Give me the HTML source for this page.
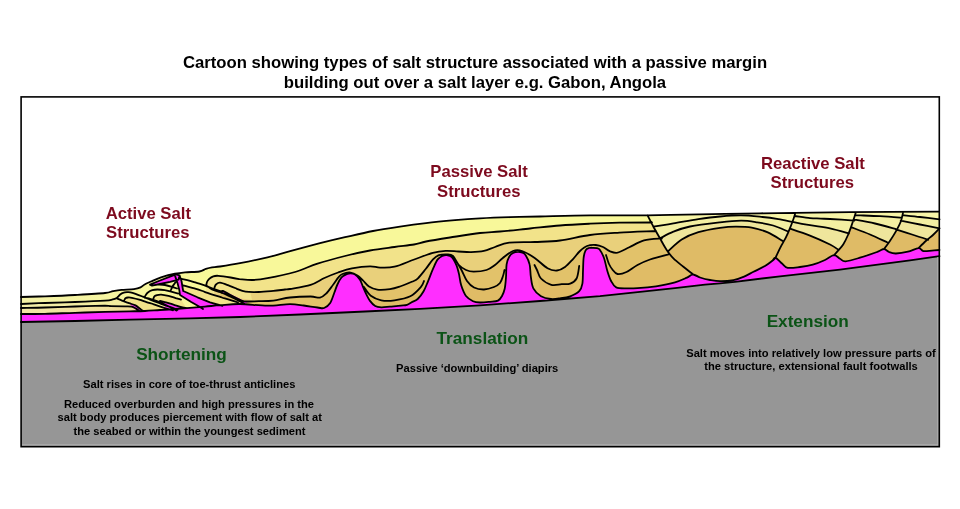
<!DOCTYPE html>
<html><head><meta charset="utf-8"><style>
html,body{margin:0;padding:0;background:#fff;}
svg{display:block;will-change:transform;}
text{font-family:"Liberation Sans",sans-serif;font-weight:bold;}
</style></head><body>
<svg width="960" height="509" viewBox="0 0 960 509">
<rect width="960" height="509" fill="#fff"/>
<rect x="21" y="96.5" width="918.5" height="350" fill="#fff"/>
<path d="M21.0,297.0 L45.0,296.3 L75.0,295.0 L105.0,293.0 L113.0,291.1 L121.5,289.9 L134.0,289.1 L140.5,287.4 L144.6,284.5 L151.0,281.5 L161.0,277.4 L175.0,273.7 L185.0,272.3 L199.4,271.5 L205.8,268.9 L212.0,267.3 L220.0,266.5 L240.0,263.2 L267.5,257.3 L292.0,250.6 L320.0,243.2 L345.0,237.2 L373.0,231.0 L400.0,226.6 L426.0,223.1 L455.0,220.2 L480.0,218.4 L510.0,217.2 L540.0,216.5 L590.0,215.4 L647.0,215.3 L700.0,214.3 L760.0,213.3 L795.0,212.9 L850.0,212.2 L939.0,211.6 L939.5,256.5 L939.5,256.2 L910.0,260.3 L855.0,267.7 L840.0,269.6 L780.0,276.3 L735.0,281.8 L720.0,283.3 L705.0,284.7 L675.0,288.1 L640.0,291.8 L600.0,296.2 L540.0,301.0 L480.0,305.3 L420.0,308.8 L365.0,311.5 L300.0,314.5 L240.0,317.0 L190.0,318.4 L130.0,319.6 L75.0,321.0 L21.0,322.0 Z" fill="#E2C26A"/>
<defs><linearGradient id="g3" gradientUnits="userSpaceOnUse" x1="30" y1="0" x2="240" y2="0"><stop offset="0" stop-color="#F1E6A4"/><stop offset="0.45" stop-color="#EFDC98"/><stop offset="1" stop-color="#E9D07B"/></linearGradient><linearGradient id="g2" gradientUnits="userSpaceOnUse" x1="30" y1="0" x2="240" y2="0"><stop offset="0" stop-color="#F3EEA8"/><stop offset="0.5" stop-color="#F3EB9C"/><stop offset="1" stop-color="#F2E38A"/></linearGradient><linearGradient id="g1" gradientUnits="userSpaceOnUse" x1="30" y1="0" x2="200" y2="0"><stop offset="0" stop-color="#F4F2A6"/><stop offset="1" stop-color="#F8F89A"/></linearGradient></defs>
<path d="M21.0,297.0 L45.0,296.3 L75.0,295.0 L105.0,293.0 L113.0,291.1 L121.5,289.9 L134.0,289.1 L140.5,287.4 L144.6,284.5 L151.0,281.5 L161.0,277.4 L175.0,273.7 L185.0,272.3 L199.4,271.5 L205.8,268.9 L212.0,267.3 L220.0,266.5 L240.0,263.2 L267.5,257.3 L292.0,250.6 L320.0,243.2 L345.0,237.2 L373.0,231.0 L400.0,226.6 L426.0,223.1 L455.0,220.2 L480.0,218.4 L510.0,217.2 L540.0,216.5 L590.0,215.4 L647.0,215.3 L662.0,215.0 L662.0,238.5 C659.0,238.8 649.5,238.9 644.0,240.4 C638.5,241.9 633.7,245.2 629.3,247.3 C624.9,249.4 620.8,252.0 617.5,252.7 C614.2,253.3 612.1,252.1 609.7,251.2 C607.3,250.2 605.3,248.0 603.0,247.0 C600.7,246.0 598.5,245.2 595.8,245.0 C593.1,244.8 589.6,245.0 587.0,246.0 C584.4,247.0 582.4,248.8 580.0,251.0 C577.6,253.2 575.3,256.6 572.8,259.3 C570.3,262.0 567.6,265.1 565.0,267.0 C562.4,268.9 559.9,270.3 557.0,270.5 C554.1,270.7 551.2,270.3 547.5,268.2 C543.8,266.1 539.0,260.9 534.7,258.0 C530.5,255.1 525.6,252.2 522.0,251.0 C518.4,249.8 516.2,249.8 513.0,251.0 C509.8,252.2 505.8,255.7 502.8,258.0 C499.8,260.3 497.7,263.0 495.0,265.0 C492.3,267.0 490.1,268.9 486.5,270.0 C482.9,271.1 477.1,271.6 473.7,271.6 C470.3,271.6 468.5,271.1 466.0,270.0 C463.5,268.9 461.1,267.3 458.9,265.0 C456.7,262.7 455.0,257.8 453.0,256.0 C451.0,254.2 449.4,254.5 447.0,254.4 C444.6,254.3 441.2,254.4 438.9,255.2 C436.6,256.0 435.2,257.1 433.0,259.4 C430.8,261.7 428.4,265.6 425.9,268.8 C423.3,272.0 420.0,276.4 417.7,278.6 C415.4,280.8 414.8,280.5 411.8,281.8 C408.9,283.1 403.6,285.3 400.0,286.5 C396.4,287.7 393.8,288.6 390.0,289.1 C386.2,289.6 380.7,290.0 377.2,289.6 C373.7,289.2 371.4,288.1 369.0,286.6 C366.6,285.1 364.8,282.2 362.9,280.4 C361.0,278.6 359.9,277.1 357.8,275.8 C355.8,274.5 353.2,272.9 350.6,272.6 C348.1,272.3 344.5,273.2 342.5,274.0 C340.5,274.8 339.9,275.6 338.4,277.4 C336.9,279.1 335.4,281.8 333.3,284.5 C331.2,287.2 328.3,291.5 326.1,293.7 C323.9,295.9 322.6,297.1 320.0,297.6 C317.4,298.1 315.6,296.5 310.6,296.5 C305.6,296.5 296.2,296.8 290.0,297.5 C283.8,298.2 278.6,300.0 273.4,300.6 C268.2,301.2 263.7,301.1 258.8,301.2 C253.9,301.3 247.8,301.8 244.2,301.3 C240.5,300.8 239.3,299.3 236.9,298.2 C234.5,297.1 231.9,295.8 229.6,294.6 C227.3,293.4 224.5,291.4 223.0,290.9 C221.5,290.4 221.5,289.8 220.8,291.7 C220.1,293.6 220.0,299.5 219.0,302.0 C218.0,304.5 219.8,305.4 215.0,306.5 C210.2,307.6 199.2,308.1 190.0,308.7 C180.8,309.3 170.0,309.9 160.0,310.3 C150.0,310.7 139.2,310.7 130.0,311.0 C120.8,311.3 114.2,311.6 105.0,311.9 C95.8,312.2 85.0,312.5 75.0,312.8 C65.0,313.1 54.0,313.6 45.0,313.8 C36.0,314.0 25.0,314.0 21.0,314.0 Z" fill="url(#g3)"/>
<path d="M21.0,297.0 L45.0,296.3 L75.0,295.0 L105.0,293.0 L113.0,291.1 L121.5,289.9 L134.0,289.1 L140.5,287.4 L144.6,284.5 L151.0,281.5 L161.0,277.4 L175.0,273.7 L185.0,272.3 L199.4,271.5 L205.8,268.9 L212.0,267.3 L220.0,266.5 L240.0,263.2 L267.5,257.3 L292.0,250.6 L320.0,243.2 L345.0,237.2 L373.0,231.0 L400.0,226.6 L426.0,223.1 L455.0,220.2 L480.0,218.4 L510.0,217.2 L540.0,216.5 L590.0,215.4 L647.0,215.3 L656.0,215.1 L656.0,231.0 C649.9,231.3 630.5,231.9 619.5,232.6 C608.5,233.3 599.9,233.7 590.0,235.0 C580.1,236.3 569.2,239.3 560.0,240.5 C550.8,241.7 543.2,241.6 534.7,242.0 C526.2,242.4 515.8,241.9 509.2,242.7 C502.6,243.5 499.2,245.6 495.0,247.0 C490.8,248.4 487.9,250.1 483.9,250.9 C479.9,251.8 475.3,252.0 471.0,252.1 C466.7,252.2 462.5,251.7 458.3,251.5 C454.1,251.3 449.9,250.7 445.6,250.9 C441.4,251.1 438.0,251.4 432.8,252.8 C427.6,254.2 420.6,257.2 414.2,259.5 C407.8,261.8 400.2,265.3 394.5,266.7 C388.8,268.1 384.1,267.7 380.0,267.6 C375.9,267.5 374.7,266.2 370.0,266.3 C365.3,266.4 357.2,267.4 351.9,268.4 C346.6,269.4 342.7,270.9 338.1,272.5 C333.5,274.1 329.0,275.9 324.4,278.0 C319.8,280.1 316.3,283.1 310.6,284.9 C304.9,286.7 294.3,288.2 290.0,289.0 C285.7,289.8 287.8,289.2 285.0,289.5 C282.2,289.8 277.8,290.5 273.4,290.9 C269.0,291.3 263.4,291.9 258.8,292.0 C254.2,292.1 249.2,292.2 245.6,291.7 C241.9,291.2 239.6,289.8 236.9,288.8 C234.2,287.8 232.4,286.8 229.6,285.8 C226.8,284.8 222.4,282.8 220.1,282.6 C217.8,282.4 216.9,283.7 216.0,284.5 C215.1,285.3 214.8,285.2 214.5,287.5 C214.2,289.8 214.4,294.8 214.0,298.0 C213.6,301.2 215.2,304.8 212.0,306.5 C208.8,308.2 202.0,307.8 195.0,308.3 C188.0,308.8 177.5,309.4 170.0,309.7 C162.5,310.0 155.1,310.1 150.0,310.3 C144.9,310.5 141.8,311.3 139.5,311.0 C137.2,310.7 137.3,309.3 136.0,308.6 C134.7,307.9 133.3,307.0 131.5,306.6 C129.7,306.2 128.6,306.4 125.0,306.3 C121.4,306.2 113.3,306.3 110.0,306.2 C106.7,306.1 110.8,305.6 105.0,305.6 C99.2,305.7 85.0,306.2 75.0,306.5 C65.0,306.8 54.0,307.2 45.0,307.5 C36.0,307.8 25.0,307.9 21.0,308.0 Z" fill="url(#g2)"/>
<path d="M364.0,287.0 C365.1,288.4 367.9,293.5 370.8,295.7 C373.7,297.9 377.4,299.5 381.3,300.3 C385.2,301.1 389.7,301.0 394.5,300.3 C399.3,299.6 405.9,298.5 410.3,296.3 C414.7,294.1 418.5,289.7 420.8,287.1 C423.1,284.6 423.5,282.0 424.0,281.0 L423.6,291.2 L417.7,299.0 L411.6,302.3 L407.0,304.8 L401.0,305.6 L390.0,306.6 L381.3,307.3 L375.2,306.0 L370.0,300.9 L366.0,293.7 Z" fill="#E0BC66"/>
<path d="M458.0,264.0 C458.7,265.2 460.5,268.2 462.0,271.0 C463.5,273.8 465.0,278.2 467.0,281.0 C469.0,283.8 471.2,286.1 474.0,287.5 C476.8,288.9 480.7,289.6 484.0,289.5 C487.3,289.4 491.3,288.1 494.0,287.0 C496.7,285.9 498.5,284.8 500.0,283.0 C501.5,281.2 502.2,278.2 503.0,276.0 C503.8,273.8 504.2,271.0 504.5,270.0 L502.0,296.0 L498.0,300.6 L490.0,301.8 L480.0,302.5 L473.0,301.2 L466.0,296.0 L461.2,285.3 L458.9,273.6 Z" fill="#E0BC66"/>
<path d="M534.5,265.0 C534.9,265.8 535.9,267.8 537.0,270.0 C538.1,272.2 538.6,276.0 541.0,278.5 C543.4,281.0 547.9,283.9 551.3,284.8 C554.7,285.8 558.5,284.4 561.6,284.2 C564.8,284.0 567.7,284.6 570.2,283.6 C572.7,282.7 575.1,281.4 576.6,278.5 C578.1,275.6 578.8,268.1 579.2,266.0 L570.2,296.3 L560.0,298.3 L551.0,299.0 L541.0,296.3 Z" fill="#E0BC66"/>
<path d="M606.0,255.0 C606.5,256.5 607.9,261.6 609.0,264.0 C610.1,266.4 611.0,267.8 612.4,269.5 C613.8,271.2 615.1,273.6 617.5,274.0 C619.9,274.4 623.2,273.5 626.5,272.0 C629.8,270.5 633.6,267.1 637.5,265.0 C641.4,262.9 644.8,261.3 650.0,259.5 C655.2,257.7 665.4,255.2 668.5,254.4 L673.4,258.4 L683.4,266.8 L693.1,274.4 L687.0,277.6 L675.0,282.3 L656.0,286.3 L637.5,288.2 L626.5,288.4 L616.2,287.4 L611.1,281.0 L607.3,270.8 Z" fill="#E0BC66"/>
<path d="M647.5,215.3 L700.0,214.3 L760.0,213.3 L795.0,212.9 L850.0,212.2 L939.0,211.6 L939.5,211.6 L939.5,256.5 L939.5,256.2 L910.0,260.3 L855.0,267.7 L840.0,269.6 L780.0,276.3 L735.0,281.8 L720.0,283.3 L705.0,284.7 L693.1,277.4 L693.1,274.4 L693.1,274.4 C691.5,273.1 686.7,269.5 683.4,266.8 C680.1,264.1 676.2,261.2 673.4,258.4 C670.6,255.6 668.9,253.3 666.7,250.0 C664.5,246.7 662.2,242.3 660.0,238.4 C657.8,234.5 655.5,230.5 653.4,226.7 C651.3,222.8 648.5,217.2 647.5,215.3 Z" fill="#DFBB66"/>
<path d="M647.5,215.3 L700.0,214.3 L760.0,213.3 L795.0,212.9 L795.4,213.0 L793.2,219.7 L790.0,228.2 L785.8,237.7 L782.6,240.9 L782.6,240.9 C780.1,239.5 772.9,234.6 767.8,232.4 C762.7,230.2 757.1,228.6 751.8,227.6 C746.5,226.6 741.2,226.6 735.9,226.6 C730.6,226.6 726.2,226.9 720.0,227.8 C713.8,228.7 704.8,230.2 698.4,232.2 C692.0,234.1 686.7,236.4 681.7,239.5 C676.7,242.6 670.6,249.1 668.4,251.0 L666.7,250.0 L660.0,238.4 L653.4,226.7 L647.5,215.3 Z" fill="#EFE69C"/>
<path d="M647.5,215.3 L700.0,214.3 L760.0,213.3 L795.0,212.9 L795.4,213.0 L793.2,219.7 L790.0,228.2 L788.0,231.5 L788.0,231.5 C785.5,230.5 778.2,227.0 773.1,225.5 C768.0,224.0 762.5,223.1 757.2,222.3 C751.9,221.5 747.4,220.7 741.2,220.7 C735.0,220.7 728.5,221.3 720.0,222.3 C711.5,223.3 697.8,224.9 690.0,226.5 C682.2,228.1 678.4,229.7 673.4,231.7 C668.4,233.7 662.2,237.3 660.0,238.4 L653.4,226.7 L647.5,215.3 Z" fill="#F3EFA2"/>
<path d="M647.5,215.3 L700.0,214.3 L760.0,213.3 L795.0,212.9 L795.4,213.0 L793.2,219.7 L792.2,221.8 L792.2,221.8 C789.9,221.4 783.4,219.9 778.4,219.1 C773.4,218.3 768.7,217.6 762.5,217.0 C756.3,216.4 748.3,215.5 741.2,215.4 C734.1,215.3 727.1,215.9 720.0,216.5 C712.9,217.1 706.2,218.0 698.4,219.2 C690.6,220.3 680.9,222.2 673.4,223.4 C665.9,224.7 656.7,226.1 653.4,226.7 L647.5,215.3 Z" fill="#F8F6A8"/>
<path d="M795.4,213.0 L850.0,212.2 L855.8,212.5 L854.0,218.2 L851.6,225.4 L848.0,235.0 L843.2,244.5 L838.0,249.5 L838.0,249.5 C836.7,248.7 834.7,246.8 830.0,244.5 C825.3,242.2 816.7,238.2 810.0,235.6 C803.3,233.0 793.3,229.8 790.0,228.7 L790.0,228.2 L793.2,219.7 L795.4,213.0 Z" fill="#EFE69C"/>
<path d="M795.4,213.0 L850.0,212.2 L855.8,212.5 L854.0,218.2 L851.6,225.4 L849.0,233.6 L849.0,233.6 C845.8,232.7 836.5,229.8 830.0,228.4 C823.5,227.0 816.2,226.3 810.0,225.2 C803.8,224.1 795.4,222.4 792.5,221.8 L793.2,219.7 L795.4,213.0 Z" fill="#F3EFA2"/>
<path d="M795.4,213.0 L850.0,212.2 L855.8,212.5 L854.0,218.2 L854.3,220.6 L854.3,220.6 C850.2,220.3 835.6,219.3 830.0,219.0 C824.4,218.7 824.0,218.8 820.7,218.6 C817.4,218.4 814.4,218.5 810.0,218.1 C805.6,217.7 797.1,216.3 794.5,216.0 L795.4,213.0 Z" fill="#F8F6A8"/>
<path d="M855.8,212.5 L903.1,212.3 L900.7,221.8 L895.9,231.4 L889.9,240.9 L887.5,242.5 L887.5,242.5 C884.6,241.2 876.0,237.1 870.0,234.5 C864.0,231.9 854.3,228.4 851.2,227.2 L851.6,225.4 L854.0,218.2 L855.8,212.5 Z" fill="#EFE69C"/>
<path d="M855.8,212.5 L903.1,212.3 L900.7,221.8 L897.0,229.5 L897.0,229.5 C893.3,228.5 882.2,225.2 875.0,223.5 C867.8,221.8 857.5,220.2 854.0,219.6 L854.0,218.2 L855.8,212.5 Z" fill="#F3EFA2"/>
<path d="M855.8,212.5 L903.1,212.3 L901.9,217.8 L901.9,217.8 C898.2,217.5 887.7,216.6 880.0,216.2 C872.3,215.8 859.7,215.4 855.6,215.2 L855.8,212.5 Z" fill="#F8F6A8"/>
<path d="M903.1,212.3 L939.0,211.6 L939.5,211.6 L939.5,219.4 L939.5,228.4 L928.2,239.8 L928.2,239.8 C925.5,238.9 917.4,236.2 912.0,234.5 C906.6,232.8 898.6,230.2 895.9,229.3 L900.7,221.8 L903.1,212.3 Z" fill="#EFE69C"/>
<path d="M903.1,212.3 L939.0,211.6 L939.5,211.6 L939.5,219.4 L939.5,228.4 L939.5,228.4 C936.2,227.8 926.5,225.8 920.0,224.5 C913.5,223.2 903.9,221.2 900.7,220.6 L903.1,212.3 Z" fill="#F3EFA2"/>
<path d="M903.1,212.3 L939.0,211.6 L939.5,211.6 L939.5,219.4 L939.5,219.4 C936.2,219.0 926.1,217.7 920.0,217.0 C913.9,216.3 905.8,215.5 903.0,215.2 L903.1,212.3 Z" fill="#F8F6A8"/>
<path d="M21.0,297.0 L45.0,296.3 L75.0,295.0 L105.0,293.0 L113.0,291.1 L121.5,289.9 L134.0,289.1 L140.5,287.4 L144.6,284.5 L151.0,281.5 L161.0,277.4 L175.0,273.7 L185.0,272.3 L199.4,271.5 L205.8,268.9 L212.0,267.3 L220.0,266.5 L240.0,263.2 L267.5,257.3 L292.0,250.6 L320.0,243.2 L345.0,237.2 L373.0,231.0 L400.0,226.6 L426.0,223.1 L455.0,220.2 L480.0,218.4 L510.0,217.2 L540.0,216.5 L590.0,215.4 L647.0,215.3 L652.0,215.2 L652.0,222.5 C646.6,222.5 629.8,222.5 619.5,222.7 C609.2,222.9 599.9,223.2 590.0,223.7 C580.1,224.2 570.0,224.7 560.0,225.5 C550.0,226.3 540.0,227.5 530.0,228.5 C520.0,229.5 508.3,230.8 500.0,231.5 C491.7,232.2 488.3,232.0 480.0,233.0 C471.7,234.0 459.0,236.1 450.0,237.5 C441.0,238.9 432.0,240.3 426.0,241.5 C420.0,242.7 419.2,243.6 414.0,244.5 C408.8,245.4 401.8,246.0 394.5,247.0 C387.2,248.0 378.2,249.0 370.0,250.5 C361.8,252.0 353.8,253.8 345.0,256.0 C336.2,258.2 325.8,260.9 317.5,263.6 C309.2,266.3 303.3,269.6 295.0,272.0 C286.7,274.4 274.5,276.9 267.5,278.2 C260.5,279.5 257.7,279.8 253.0,280.0 C248.3,280.2 242.9,279.6 239.2,279.2 C235.5,278.8 234.1,278.1 230.6,277.5 C227.1,276.9 221.3,276.0 218.4,275.8 C215.5,275.6 214.8,275.8 213.3,276.3 C211.8,276.8 210.2,277.9 209.2,278.8 C208.2,279.7 207.7,280.4 207.2,281.5 C206.7,282.6 206.4,282.1 206.2,285.2 C206.0,288.3 206.4,296.4 206.0,300.0 C205.6,303.6 205.8,305.2 204.0,306.5 C202.2,307.8 200.7,307.5 195.0,308.0 C189.3,308.5 177.5,309.2 170.0,309.5 C162.5,309.8 154.9,310.1 150.0,310.0 C145.1,309.9 143.0,309.9 140.6,309.1 C138.2,308.3 137.4,306.4 135.5,305.4 C133.6,304.4 131.2,304.0 129.0,303.2 C126.8,302.4 124.8,301.2 122.0,300.6 C119.2,300.0 114.8,299.6 112.0,299.6 C109.2,299.6 111.2,300.2 105.0,300.6 C98.8,301.0 85.0,301.6 75.0,302.0 C65.0,302.4 54.0,302.7 45.0,303.0 C36.0,303.3 25.0,303.8 21.0,304.0 Z" fill="url(#g1)"/>
<path d="M124.3,300.2 C124.5,299.9 124.8,298.8 125.4,298.3 C126.0,297.9 126.9,297.6 128.0,297.5 C129.1,297.4 130.0,297.4 131.9,297.8 C133.8,298.2 136.8,298.9 139.2,299.6 C141.6,300.3 144.1,301.3 146.5,302.1 C148.9,302.9 151.4,303.5 153.8,304.3 C156.2,305.1 158.7,306.1 161.1,306.9 C163.5,307.7 166.4,308.5 168.4,309.1 C170.4,309.7 172.2,310.1 173.0,310.3 L150,311 L140,309 L134,305 L128,302.8 Z" fill="#F2E38A"/>
<path d="M153.4,298.6 C153.6,298.2 154.0,296.8 154.6,296.2 C155.2,295.6 155.9,295.4 157.0,295.1 C158.1,294.8 159.2,294.5 161.1,294.6 C163.0,294.7 166.0,295.3 168.4,295.9 C170.8,296.5 173.5,297.5 175.6,298.1 C177.7,298.7 180.1,299.4 181.0,299.6 L186,307.5 L176,304.6 L168.4,302.2 L160,300.8 Z" fill="#F2E38A"/>
<path d="M183.0,285.3 C185.2,285.9 192.4,287.7 196.0,288.8 C199.6,289.9 201.7,290.8 204.6,291.8 C207.5,292.8 210.4,293.9 213.3,294.8 C216.2,295.8 219.0,296.6 221.9,297.5 C224.8,298.4 227.9,299.4 230.6,300.2 C233.3,301.0 236.8,302.1 238.0,302.5 L245,305 L222,305 L205,299 L196,295.7 L184,290.5 Z" fill="#F2E38A"/>
<path d="M214.2,289.0 C214.3,288.6 214.4,287.3 214.8,286.5 C215.2,285.7 215.6,284.9 216.5,284.3 C217.4,283.7 218.6,283.2 220.2,283.1 C221.8,283.0 223.8,283.1 226.2,283.6 C228.6,284.1 232.0,285.3 234.9,286.2 C237.8,287.1 241.0,288.1 243.5,288.8 C246.0,289.5 248.9,290.2 250.0,290.5 L252,300 L240,298.3 L222,291 Z" fill="#F2E38A"/>
<path d="M150.0,284.6 L160.0,280.5 L170.0,276.6 L176.0,274.4 L179.6,275.4 L178.5,279.6 L170.0,281.8 L160.0,284.0 L152.0,285.6 Z" fill="#FF2EFF"/>
<path d="M175.2,276.4 L179.6,275.6 L181.5,281.0 L182.5,287.0 L183.2,291.0 L197.5,297.3 L210.0,302.3 L222.5,305.8 L226.0,306.5 L226.0,309.0 L203.0,309.0 L200.0,307.0 L191.2,302.0 L180.0,295.0 L179.3,290.0 L177.5,283.0 Z" fill="#FF2EFF"/>
<path d="M128.6,302.8 L133.0,304.6 L136.9,306.8 L140.5,309.7 L142.5,311.5 L138.5,311.5 L134.0,308.0 L130.5,304.8 Z" fill="#FF2EFF"/>
<path d="M159.4,300.2 L166.0,302.2 L173.4,304.5 L180.6,306.7 L187.0,308.2 L190.0,310.3 L168.0,311.0 L165.0,307.0 L161.5,302.5 Z" fill="#FF2EFF"/>
<path d="M222.0,292.2 L225.4,291.6 L230.6,294.3 L239.2,298.6 L247.9,302.8 L244.0,303.5 L239.2,301.0 L230.6,296.6 L223.6,293.3 Z" fill="#FF2EFF"/>
<path d="M21.0,314.0 C25.0,314.0 36.0,314.0 45.0,313.8 C54.0,313.6 65.0,313.1 75.0,312.8 C85.0,312.5 95.8,312.1 105.0,311.9 C114.2,311.6 123.3,311.4 130.0,311.3 C136.7,311.2 140.0,311.2 145.0,311.0 C150.0,310.8 155.0,310.3 160.0,310.0 C165.0,309.7 170.0,309.4 175.0,309.0 C180.0,308.6 185.0,308.2 190.0,307.8 C195.0,307.4 200.0,307.0 205.0,306.6 C210.0,306.2 214.2,305.6 220.0,305.2 C225.8,304.8 232.1,303.9 240.0,304.0 C247.9,304.1 259.2,305.7 267.5,305.7 C275.8,305.7 284.0,304.1 290.0,304.1 C296.0,304.1 299.1,304.9 303.7,305.5 C308.3,306.1 314.1,307.1 317.5,307.5 C320.9,307.9 322.0,308.8 324.1,308.0 C326.2,307.2 328.5,305.4 330.2,302.9 C331.9,300.3 333.1,295.8 334.3,292.7 C335.5,289.6 336.2,287.1 337.4,284.5 C338.6,281.9 340.0,279.1 341.5,277.4 C343.0,275.7 345.1,275.0 346.6,274.3 C348.1,273.6 349.2,273.3 350.6,273.3 C352.0,273.3 353.2,273.3 354.7,274.3 C356.2,275.3 358.4,277.3 359.8,279.4 C361.2,281.4 361.9,284.2 362.9,286.6 C363.9,289.0 364.8,291.3 366.0,293.7 C367.2,296.1 368.5,298.8 370.0,300.9 C371.5,302.9 373.3,304.9 375.2,306.0 C377.1,307.1 378.8,307.2 381.3,307.3 C383.8,307.4 386.7,306.9 390.0,306.6 C393.3,306.3 398.2,305.9 401.0,305.6 C403.8,305.3 405.2,305.4 407.0,304.8 C408.8,304.2 409.8,303.3 411.6,302.3 C413.4,301.3 415.7,300.9 417.7,299.0 C419.7,297.1 421.8,294.3 423.6,291.2 C425.4,288.1 426.7,284.3 428.3,280.6 C429.9,276.9 431.4,272.3 433.0,268.8 C434.6,265.3 436.1,261.5 437.7,259.4 C439.3,257.2 440.8,256.6 442.4,255.9 C444.0,255.2 445.5,255.0 447.1,255.2 C448.7,255.4 450.2,255.4 451.8,257.1 C453.4,258.8 455.3,262.6 456.5,265.3 C457.7,268.1 458.1,270.3 458.9,273.6 C459.7,276.9 460.0,281.6 461.2,285.3 C462.4,289.0 464.0,293.4 466.0,296.0 C468.0,298.6 470.7,300.1 473.0,301.2 C475.3,302.3 477.2,302.4 480.0,302.5 C482.8,302.6 487.0,302.1 490.0,301.8 C493.0,301.5 496.0,301.6 498.0,300.6 C500.0,299.6 500.9,298.0 502.0,296.0 C503.1,294.0 504.0,291.8 504.7,288.7 C505.4,285.6 505.7,281.2 506.0,277.2 C506.3,273.1 506.1,267.8 506.6,264.4 C507.1,261.0 508.1,258.6 509.2,256.7 C510.3,254.8 511.5,253.8 513.0,253.0 C514.5,252.2 516.5,251.8 518.1,251.8 C519.7,251.8 521.2,252.2 522.5,252.8 C523.8,253.4 524.6,253.5 525.8,255.4 C527.0,257.3 528.8,260.8 529.6,264.4 C530.5,268.0 530.2,273.1 530.9,277.2 C531.5,281.2 531.8,285.5 533.5,288.7 C535.2,291.9 538.1,294.6 541.0,296.3 C543.9,298.0 547.8,298.7 551.0,299.0 C554.2,299.3 556.8,298.8 560.0,298.3 C563.2,297.9 567.0,297.5 570.2,296.3 C573.4,295.1 577.2,293.3 579.2,291.2 C581.2,289.1 581.8,287.0 582.4,283.6 C583.0,280.2 582.8,275.1 583.0,270.8 C583.2,266.5 583.2,261.4 583.6,258.0 C584.0,254.6 584.7,252.0 585.6,250.3 C586.5,248.6 587.7,248.4 589.0,248.0 C590.3,247.6 591.9,247.8 593.2,247.8 C594.5,247.8 595.9,247.9 597.0,248.2 C598.1,248.5 598.4,247.9 599.6,249.5 C600.8,251.1 602.7,254.4 604.0,258.0 C605.3,261.6 606.1,267.0 607.3,270.8 C608.5,274.6 609.6,278.2 611.1,281.0 C612.6,283.8 613.6,286.2 616.2,287.4 C618.8,288.6 623.0,288.3 626.5,288.4 C630.0,288.5 632.6,288.5 637.5,288.2 C642.4,287.9 649.8,287.3 656.0,286.3 C662.2,285.3 669.8,283.8 675.0,282.3 C680.2,280.9 684.0,278.9 687.0,277.6 C690.0,276.3 690.9,274.4 693.1,274.4 C695.3,274.4 697.2,276.6 700.0,277.5 C702.8,278.4 706.7,279.4 710.0,280.0 C713.3,280.6 716.1,281.2 720.0,281.2 C723.9,281.3 729.6,280.8 733.5,280.1 C737.4,279.4 740.2,278.2 743.5,276.8 C746.8,275.4 749.9,273.6 753.5,271.8 C757.1,270.0 761.9,267.8 765.0,266.0 C768.1,264.2 770.2,262.4 772.0,261.0 C773.8,259.6 773.8,257.4 775.5,257.8 C777.2,258.2 780.0,261.8 782.0,263.5 C784.0,265.2 784.7,267.2 787.7,267.8 C790.7,268.4 795.8,267.5 800.0,267.0 C804.2,266.5 808.6,265.9 812.8,264.7 C817.0,263.5 821.5,261.6 825.0,260.0 C828.5,258.4 831.5,255.4 834.0,255.2 C836.5,255.0 838.1,257.8 840.0,258.8 C841.9,259.8 842.3,261.5 845.6,261.3 C848.9,261.1 854.6,259.3 860.0,257.7 C865.4,256.1 873.9,253.1 877.9,251.7 C881.9,250.2 882.1,248.9 884.0,249.0 C885.9,249.1 887.0,251.2 889.0,252.0 C891.0,252.8 892.8,253.6 895.9,253.5 C899.0,253.4 904.1,252.6 907.9,251.7 C911.7,250.8 916.0,248.2 918.6,248.1 C921.2,248.0 921.2,250.7 923.4,251.1 C925.6,251.5 929.3,250.8 932.0,250.6 C934.7,250.4 938.2,250.1 939.5,250.0 L939.5,256.5 L939.5,256.2 L910.0,260.3 L855.0,267.7 L840.0,269.6 L780.0,276.3 L735.0,281.8 L720.0,283.3 L705.0,284.7 L675.0,288.1 L640.0,291.8 L600.0,296.2 L540.0,301.0 L480.0,305.3 L420.0,308.8 L365.0,311.5 L300.0,314.5 L240.0,317.0 L190.0,318.4 L130.0,319.6 L75.0,321.0 L21.0,322.0 Z" fill="#FF2EFF"/>
<path d="M21.0,322.0 L75.0,321.0 L130.0,319.6 L190.0,318.4 L240.0,317.0 L300.0,314.5 L365.0,311.5 L420.0,308.8 L480.0,305.3 L540.0,301.0 L600.0,296.2 L640.0,291.8 L675.0,288.1 L705.0,284.7 L720.0,283.3 L735.0,281.8 L780.0,276.3 L840.0,269.6 L855.0,267.7 L910.0,260.3 L939.5,256.2 L939.5,447 L21,447 Z" fill="#969696"/>
<path d="M21.0,297.0 C25.0,296.9 36.0,296.6 45.0,296.3 C54.0,296.0 65.0,295.6 75.0,295.0 C85.0,294.4 98.7,293.6 105.0,293.0 C111.3,292.4 110.2,291.6 113.0,291.1 C115.8,290.6 118.0,290.2 121.5,289.9 C125.0,289.6 130.8,289.5 134.0,289.1 C137.2,288.7 138.7,288.2 140.5,287.4 C142.3,286.6 142.8,285.5 144.6,284.5 C146.3,283.5 148.3,282.7 151.0,281.5 C153.7,280.3 157.0,278.7 161.0,277.4 C165.0,276.1 171.0,274.5 175.0,273.7 C179.0,272.9 180.9,272.7 185.0,272.3 C189.1,271.9 195.9,272.1 199.4,271.5 C202.9,270.9 203.7,269.6 205.8,268.9 C207.9,268.2 209.6,267.7 212.0,267.3 C214.4,266.9 215.3,267.2 220.0,266.5 C224.7,265.8 232.1,264.7 240.0,263.2 C247.9,261.7 258.8,259.4 267.5,257.3 C276.2,255.2 283.2,252.9 292.0,250.6 C300.8,248.2 311.2,245.4 320.0,243.2 C328.8,241.0 336.2,239.2 345.0,237.2 C353.8,235.2 363.8,232.8 373.0,231.0 C382.2,229.2 391.2,227.9 400.0,226.6 C408.8,225.3 416.8,224.2 426.0,223.1 C435.2,222.0 446.0,221.0 455.0,220.2 C464.0,219.4 470.8,218.9 480.0,218.4 C489.2,217.9 500.0,217.5 510.0,217.2 C520.0,216.9 526.7,216.8 540.0,216.5 C553.3,216.2 572.2,215.6 590.0,215.4 C607.8,215.2 628.7,215.5 647.0,215.3 C665.3,215.1 681.2,214.6 700.0,214.3 C718.8,214.0 744.2,213.5 760.0,213.3 C775.8,213.1 780.0,213.1 795.0,212.9 C810.0,212.7 826.0,212.4 850.0,212.2 C874.0,212.0 924.2,211.7 939.0,211.6 M21.0,304.0 C25.0,303.8 36.0,303.3 45.0,303.0 C54.0,302.7 65.0,302.4 75.0,302.0 C85.0,301.6 98.8,301.0 105.0,300.6 C111.2,300.2 110.8,299.8 112.0,299.6 M239.2,279.2 C241.5,279.3 248.3,280.2 253.0,280.0 C257.7,279.8 260.5,279.5 267.5,278.2 C274.5,276.9 286.7,274.4 295.0,272.0 C303.3,269.6 309.2,266.3 317.5,263.6 C325.8,260.9 336.2,258.2 345.0,256.0 C353.8,253.8 361.8,252.0 370.0,250.5 C378.2,249.0 387.2,248.0 394.5,247.0 C401.8,246.0 408.8,245.4 414.0,244.5 C419.2,243.6 420.0,242.7 426.0,241.5 C432.0,240.3 441.0,238.9 450.0,237.5 C459.0,236.1 471.7,234.0 480.0,233.0 C488.3,232.0 491.7,232.2 500.0,231.5 C508.3,230.8 520.0,229.5 530.0,228.5 C540.0,227.5 550.0,226.3 560.0,225.5 C570.0,224.7 580.1,224.2 590.0,223.7 C599.9,223.2 609.2,222.9 619.5,222.7 C629.8,222.5 646.6,222.5 652.0,222.5 M21.0,308.0 C25.0,307.9 36.0,307.8 45.0,307.5 C54.0,307.2 65.0,306.8 75.0,306.5 C85.0,306.2 99.2,305.7 105.0,305.6 C110.8,305.6 109.2,306.1 110.0,306.2 M236.9,288.8 C238.3,289.3 241.9,291.2 245.6,291.7 C249.2,292.2 254.2,292.1 258.8,292.0 C263.4,291.9 269.0,291.3 273.4,290.9 C277.8,290.5 282.2,289.8 285.0,289.5 C287.8,289.2 285.7,289.8 290.0,289.0 C294.3,288.2 304.9,286.7 310.6,284.9 C316.3,283.1 319.8,280.1 324.4,278.0 C329.0,275.9 333.5,274.1 338.1,272.5 C342.7,270.9 346.6,269.4 351.9,268.4 C357.2,267.4 365.3,266.4 370.0,266.3 C374.7,266.2 375.9,267.5 380.0,267.6 C384.1,267.7 388.8,268.1 394.5,266.7 C400.2,265.3 407.8,261.8 414.2,259.5 C420.6,257.2 427.6,254.2 432.8,252.8 C438.0,251.4 441.4,251.1 445.6,250.9 C449.9,250.7 454.1,251.3 458.3,251.5 C462.5,251.7 466.7,252.2 471.0,252.1 C475.3,252.0 479.9,251.8 483.9,250.9 C487.9,250.1 490.8,248.4 495.0,247.0 C499.2,245.6 502.6,243.5 509.2,242.7 C515.8,241.9 526.2,242.4 534.7,242.0 C543.2,241.6 550.8,241.7 560.0,240.5 C569.2,239.3 580.1,236.3 590.0,235.0 C599.9,233.7 608.5,233.3 619.5,232.6 C630.5,231.9 649.9,231.3 656.0,231.0 M220.8,291.7 C221.2,291.6 221.5,290.4 223.0,290.9 C224.5,291.4 227.3,293.4 229.6,294.6 C231.9,295.8 234.5,297.1 236.9,298.2 C239.3,299.3 240.5,300.8 244.2,301.3 C247.8,301.8 253.9,301.3 258.8,301.2 C263.7,301.1 268.2,301.2 273.4,300.6 C278.6,300.0 283.8,298.2 290.0,297.5 C296.2,296.8 305.6,296.5 310.6,296.5 C315.6,296.5 317.4,298.1 320.0,297.6 C322.6,297.1 323.9,295.9 326.1,293.7 C328.3,291.5 331.2,287.2 333.3,284.5 C335.4,281.8 336.9,279.1 338.4,277.4 C339.9,275.6 340.5,274.8 342.5,274.0 C344.5,273.2 348.1,272.3 350.6,272.6 C353.2,272.9 355.8,274.5 357.8,275.8 C359.9,277.1 361.0,278.6 362.9,280.4 C364.8,282.2 366.6,285.1 369.0,286.6 C371.4,288.1 373.7,289.2 377.2,289.6 C380.7,290.0 386.2,289.6 390.0,289.1 C393.8,288.6 396.4,287.7 400.0,286.5 C403.6,285.3 408.9,283.1 411.8,281.8 C414.8,280.5 415.4,280.8 417.7,278.6 C420.0,276.4 423.3,272.0 425.9,268.8 C428.4,265.6 430.8,261.7 433.0,259.4 C435.2,257.1 436.6,256.0 438.9,255.2 C441.2,254.4 444.6,254.3 447.0,254.4 C449.4,254.5 451.0,254.2 453.0,256.0 C455.0,257.8 456.7,262.7 458.9,265.0 C461.1,267.3 463.5,268.9 466.0,270.0 C468.5,271.1 470.3,271.6 473.7,271.6 C477.1,271.6 482.9,271.1 486.5,270.0 C490.1,268.9 492.3,267.0 495.0,265.0 C497.7,263.0 499.8,260.3 502.8,258.0 C505.8,255.7 509.8,252.2 513.0,251.0 C516.2,249.8 518.4,249.8 522.0,251.0 C525.6,252.2 530.5,255.1 534.7,258.0 C539.0,260.9 543.8,266.1 547.5,268.2 C551.2,270.3 554.1,270.7 557.0,270.5 C559.9,270.3 562.4,268.9 565.0,267.0 C567.6,265.1 570.3,262.0 572.8,259.3 C575.3,256.6 577.6,253.2 580.0,251.0 C582.4,248.8 584.4,247.0 587.0,246.0 C589.6,245.0 593.1,244.8 595.8,245.0 C598.5,245.2 600.7,246.0 603.0,247.0 C605.3,248.0 607.3,250.2 609.7,251.2 C612.1,252.1 614.2,253.3 617.5,252.7 C620.8,252.0 624.9,249.4 629.3,247.3 C633.7,245.2 638.5,241.9 644.0,240.4 C649.5,238.9 659.0,238.8 662.0,238.5 M112.0,299.6 C112.7,299.4 115.0,298.9 116.0,298.4 C117.0,297.9 117.5,297.2 118.3,296.5 C119.0,295.8 119.7,294.8 120.5,294.2 C121.3,293.6 122.0,293.1 123.1,292.8 C124.2,292.5 125.8,292.3 127.0,292.2 C128.2,292.1 129.0,292.0 130.4,292.3 C131.8,292.6 133.4,293.1 135.5,293.8 C137.6,294.5 140.4,295.7 142.8,296.7 C145.2,297.7 147.7,298.6 150.1,299.6 C152.5,300.6 155.0,301.6 157.4,302.5 C159.8,303.4 162.3,304.2 164.7,305.1 C167.1,306.0 169.9,306.8 172.0,307.6 C174.1,308.4 176.6,309.4 177.5,309.8 M124.3,300.2 C124.5,299.9 124.8,298.8 125.4,298.3 C126.0,297.9 126.9,297.6 128.0,297.5 C129.1,297.4 130.0,297.4 131.9,297.8 C133.8,298.2 136.8,298.9 139.2,299.6 C141.6,300.3 144.1,301.3 146.5,302.1 C148.9,302.9 151.4,303.5 153.8,304.3 C156.2,305.1 158.7,306.1 161.1,306.9 C163.5,307.7 166.4,308.5 168.4,309.1 C170.4,309.7 172.2,310.1 173.0,310.3 M117.5,298.6 C118.2,298.9 120.1,299.8 122.0,300.6 C123.9,301.4 126.8,302.4 129.0,303.2 C131.2,304.0 133.6,304.4 135.5,305.4 C137.4,306.4 139.3,308.2 140.6,309.1 C141.8,310.0 142.6,310.7 143.0,311.0 M110.0,306.2 C112.5,306.2 121.4,306.2 125.0,306.3 C128.6,306.4 129.7,306.2 131.5,306.6 C133.3,307.0 134.7,307.9 136.0,308.6 C137.3,309.3 138.9,310.6 139.5,311.0 M144.5,297.4 C144.7,297.0 145.2,295.8 145.8,295.0 C146.4,294.2 146.8,293.2 147.9,292.4 C149.0,291.6 150.7,290.7 152.3,290.2 C153.9,289.7 155.3,289.5 157.4,289.5 C159.5,289.5 162.3,289.7 164.7,290.1 C167.1,290.5 169.7,291.3 172.0,291.9 C174.3,292.5 177.2,293.3 178.3,293.6 M153.4,298.6 C153.6,298.2 154.0,296.8 154.6,296.2 C155.2,295.6 155.9,295.4 157.0,295.1 C158.1,294.8 159.2,294.5 161.1,294.6 C163.0,294.7 166.0,295.3 168.4,295.9 C170.8,296.5 173.5,297.5 175.6,298.1 C177.7,298.7 180.1,299.4 181.0,299.6 M145.0,297.8 C146.0,298.0 148.4,298.3 150.8,299.0 C153.2,299.7 156.7,300.8 159.6,302.0 C162.5,303.2 166.0,305.0 168.4,306.2 C170.8,307.4 172.8,308.4 174.2,309.1 C175.5,309.8 176.1,310.3 176.5,310.5 M160.0,300.8 C161.0,301.1 163.8,301.8 166.0,302.4 C168.2,303.0 171.0,303.9 173.4,304.6 C175.8,305.3 178.3,306.2 180.6,306.8 C182.9,307.4 185.9,308.0 187.0,308.2 M158.0,284.5 C159.2,284.6 162.7,284.6 165.0,285.0 C167.3,285.4 170.0,286.2 172.0,286.8 C174.0,287.4 176.2,288.2 177.0,288.5 M170.4,291.2 C170.8,290.4 171.7,288.0 172.5,286.5 C173.3,285.0 175.0,283.0 175.5,282.3 M179.5,278.4 C180.8,278.7 184.6,279.4 187.3,280.1 C190.1,280.8 193.1,281.8 196.0,282.7 C198.9,283.6 201.7,284.3 204.6,285.3 C207.5,286.3 210.4,287.8 213.3,288.8 C216.2,289.9 220.5,291.1 221.9,291.6 M183.0,285.3 C185.2,285.9 192.4,287.7 196.0,288.8 C199.6,289.9 201.7,290.8 204.6,291.8 C207.5,292.8 210.4,293.9 213.3,294.8 C216.2,295.8 219.0,296.6 221.9,297.5 C224.8,298.4 227.9,299.4 230.6,300.2 C233.3,301.0 236.8,302.1 238.0,302.5 M206.2,285.2 C206.4,284.6 206.7,282.6 207.2,281.5 C207.7,280.4 208.2,279.7 209.2,278.8 C210.2,277.9 211.8,276.8 213.3,276.3 C214.8,275.8 215.5,275.6 218.4,275.8 C221.3,276.0 227.1,276.9 230.6,277.5 C234.1,278.1 237.8,278.9 239.2,279.2 M214.2,289.0 C214.2,288.8 214.2,288.2 214.5,287.5 C214.8,286.8 215.1,285.3 216.0,284.5 C216.9,283.7 217.8,282.4 220.1,282.6 C222.4,282.8 226.8,284.8 229.6,285.8 C232.4,286.8 235.7,288.3 236.9,288.8 M221.5,292.8 C221.8,292.9 222.1,292.7 223.6,293.3 C225.1,293.9 228.0,295.3 230.6,296.6 C233.2,297.9 237.0,299.9 239.2,301.0 C241.4,302.1 243.2,303.1 244.0,303.5 M206.2,285.2 C207.2,285.9 209.5,288.3 212.0,289.5 C214.5,290.7 219.5,291.9 221.0,292.4 M150.0,284.6 L160.0,280.5 L170.0,276.6 L176.0,274.4 L179.6,275.4 L178.5,279.6 L170.0,281.8 L160.0,284.0 L152.0,285.6 Z M179.6,275.6 L181.5,281.0 L182.5,287.0 L183.2,291.0 L197.5,297.3 L210.0,302.3 L222.5,305.8 M175.2,276.4 L177.5,283.0 L179.3,290.0 L180.0,295.0 L191.2,302.0 L200.0,307.0 L203.0,309.0 M21.0,314.0 C25.0,314.0 36.0,314.0 45.0,313.8 C54.0,313.6 65.0,313.1 75.0,312.8 C85.0,312.5 95.8,312.1 105.0,311.9 C114.2,311.6 123.3,311.4 130.0,311.3 C136.7,311.2 140.0,311.2 145.0,311.0 C150.0,310.8 155.0,310.3 160.0,310.0 C165.0,309.7 170.0,309.4 175.0,309.0 C180.0,308.6 185.0,308.2 190.0,307.8 C195.0,307.4 200.0,307.0 205.0,306.6 C210.0,306.2 214.2,305.6 220.0,305.2 C225.8,304.8 232.1,303.9 240.0,304.0 C247.9,304.1 259.2,305.7 267.5,305.7 C275.8,305.7 284.0,304.1 290.0,304.1 C296.0,304.1 299.1,304.9 303.7,305.5 C308.3,306.1 314.1,307.1 317.5,307.5 C320.9,307.9 322.0,308.8 324.1,308.0 C326.2,307.2 328.5,305.4 330.2,302.9 C331.9,300.3 333.1,295.8 334.3,292.7 C335.5,289.6 336.2,287.1 337.4,284.5 C338.6,281.9 340.0,279.1 341.5,277.4 C343.0,275.7 345.1,275.0 346.6,274.3 C348.1,273.6 349.2,273.3 350.6,273.3 C352.0,273.3 353.2,273.3 354.7,274.3 C356.2,275.3 358.4,277.3 359.8,279.4 C361.2,281.4 361.9,284.2 362.9,286.6 C363.9,289.0 364.8,291.3 366.0,293.7 C367.2,296.1 368.5,298.8 370.0,300.9 C371.5,302.9 373.3,304.9 375.2,306.0 C377.1,307.1 378.8,307.2 381.3,307.3 C383.8,307.4 386.7,306.9 390.0,306.6 C393.3,306.3 398.2,305.9 401.0,305.6 C403.8,305.3 405.2,305.4 407.0,304.8 C408.8,304.2 409.8,303.3 411.6,302.3 C413.4,301.3 415.7,300.9 417.7,299.0 C419.7,297.1 421.8,294.3 423.6,291.2 C425.4,288.1 426.7,284.3 428.3,280.6 C429.9,276.9 431.4,272.3 433.0,268.8 C434.6,265.3 436.1,261.5 437.7,259.4 C439.3,257.2 440.8,256.6 442.4,255.9 C444.0,255.2 445.5,255.0 447.1,255.2 C448.7,255.4 450.2,255.4 451.8,257.1 C453.4,258.8 455.3,262.6 456.5,265.3 C457.7,268.1 458.1,270.3 458.9,273.6 C459.7,276.9 460.0,281.6 461.2,285.3 C462.4,289.0 464.0,293.4 466.0,296.0 C468.0,298.6 470.7,300.1 473.0,301.2 C475.3,302.3 477.2,302.4 480.0,302.5 C482.8,302.6 487.0,302.1 490.0,301.8 C493.0,301.5 496.0,301.6 498.0,300.6 C500.0,299.6 500.9,298.0 502.0,296.0 C503.1,294.0 504.0,291.8 504.7,288.7 C505.4,285.6 505.7,281.2 506.0,277.2 C506.3,273.1 506.1,267.8 506.6,264.4 C507.1,261.0 508.1,258.6 509.2,256.7 C510.3,254.8 511.5,253.8 513.0,253.0 C514.5,252.2 516.5,251.8 518.1,251.8 C519.7,251.8 521.2,252.2 522.5,252.8 C523.8,253.4 524.6,253.5 525.8,255.4 C527.0,257.3 528.8,260.8 529.6,264.4 C530.5,268.0 530.2,273.1 530.9,277.2 C531.5,281.2 531.8,285.5 533.5,288.7 C535.2,291.9 538.1,294.6 541.0,296.3 C543.9,298.0 547.8,298.7 551.0,299.0 C554.2,299.3 556.8,298.8 560.0,298.3 C563.2,297.9 567.0,297.5 570.2,296.3 C573.4,295.1 577.2,293.3 579.2,291.2 C581.2,289.1 581.8,287.0 582.4,283.6 C583.0,280.2 582.8,275.1 583.0,270.8 C583.2,266.5 583.2,261.4 583.6,258.0 C584.0,254.6 584.7,252.0 585.6,250.3 C586.5,248.6 587.7,248.4 589.0,248.0 C590.3,247.6 591.9,247.8 593.2,247.8 C594.5,247.8 595.9,247.9 597.0,248.2 C598.1,248.5 598.4,247.9 599.6,249.5 C600.8,251.1 602.7,254.4 604.0,258.0 C605.3,261.6 606.1,267.0 607.3,270.8 C608.5,274.6 609.6,278.2 611.1,281.0 C612.6,283.8 613.6,286.2 616.2,287.4 C618.8,288.6 623.0,288.3 626.5,288.4 C630.0,288.5 632.6,288.5 637.5,288.2 C642.4,287.9 649.8,287.3 656.0,286.3 C662.2,285.3 669.8,283.8 675.0,282.3 C680.2,280.9 684.0,278.9 687.0,277.6 C690.0,276.3 690.9,274.4 693.1,274.4 C695.3,274.4 697.2,276.6 700.0,277.5 C702.8,278.4 706.7,279.4 710.0,280.0 C713.3,280.6 716.1,281.2 720.0,281.2 C723.9,281.3 729.6,280.8 733.5,280.1 C737.4,279.4 740.2,278.2 743.5,276.8 C746.8,275.4 749.9,273.6 753.5,271.8 C757.1,270.0 761.9,267.8 765.0,266.0 C768.1,264.2 770.2,262.4 772.0,261.0 C773.8,259.6 773.8,257.4 775.5,257.8 C777.2,258.2 780.0,261.8 782.0,263.5 C784.0,265.2 784.7,267.2 787.7,267.8 C790.7,268.4 795.8,267.5 800.0,267.0 C804.2,266.5 808.6,265.9 812.8,264.7 C817.0,263.5 821.5,261.6 825.0,260.0 C828.5,258.4 831.5,255.4 834.0,255.2 C836.5,255.0 838.1,257.8 840.0,258.8 C841.9,259.8 842.3,261.5 845.6,261.3 C848.9,261.1 854.6,259.3 860.0,257.7 C865.4,256.1 873.9,253.1 877.9,251.7 C881.9,250.2 882.1,248.9 884.0,249.0 C885.9,249.1 887.0,251.2 889.0,252.0 C891.0,252.8 892.8,253.6 895.9,253.5 C899.0,253.4 904.1,252.6 907.9,251.7 C911.7,250.8 916.0,248.2 918.6,248.1 C921.2,248.0 921.2,250.7 923.4,251.1 C925.6,251.5 929.3,250.8 932.0,250.6 C934.7,250.4 938.2,250.1 939.5,250.0 M21.0,322.0 L75.0,321.0 L130.0,319.6 L190.0,318.4 L240.0,317.0 L300.0,314.5 L365.0,311.5 L420.0,308.8 L480.0,305.3 L540.0,301.0 L600.0,296.2 L640.0,291.8 L675.0,288.1 L705.0,284.7 L720.0,283.3 L735.0,281.8 L780.0,276.3 L840.0,269.6 L855.0,267.7 L910.0,260.3 L939.5,256.2 M364.0,287.0 C365.1,288.4 367.9,293.5 370.8,295.7 C373.7,297.9 377.4,299.5 381.3,300.3 C385.2,301.1 389.7,301.0 394.5,300.3 C399.3,299.6 405.9,298.5 410.3,296.3 C414.7,294.1 418.5,289.7 420.8,287.1 C423.1,284.6 423.5,282.0 424.0,281.0 M458.0,264.0 C458.7,265.2 460.5,268.2 462.0,271.0 C463.5,273.8 465.0,278.2 467.0,281.0 C469.0,283.8 471.2,286.1 474.0,287.5 C476.8,288.9 480.7,289.6 484.0,289.5 C487.3,289.4 491.3,288.1 494.0,287.0 C496.7,285.9 498.5,284.8 500.0,283.0 C501.5,281.2 502.2,278.2 503.0,276.0 C503.8,273.8 504.2,271.0 504.5,270.0 M534.5,265.0 C534.9,265.8 535.9,267.8 537.0,270.0 C538.1,272.2 538.6,276.0 541.0,278.5 C543.4,281.0 547.9,283.9 551.3,284.8 C554.7,285.8 558.5,284.4 561.6,284.2 C564.8,284.0 567.7,284.6 570.2,283.6 C572.7,282.7 575.1,281.4 576.6,278.5 C578.1,275.6 578.8,268.1 579.2,266.0 M606.0,255.0 C606.5,256.5 607.9,261.6 609.0,264.0 C610.1,266.4 611.0,267.8 612.4,269.5 C613.8,271.2 615.1,273.6 617.5,274.0 C619.9,274.4 623.2,273.5 626.5,272.0 C629.8,270.5 633.6,267.1 637.5,265.0 C641.4,262.9 644.8,261.3 650.0,259.5 C655.2,257.7 665.4,255.2 668.5,254.4 M647.5,215.3 C648.5,217.2 651.3,222.8 653.4,226.7 C655.5,230.5 657.8,234.5 660.0,238.4 C662.2,242.3 664.5,246.7 666.7,250.0 C668.9,253.3 670.6,255.6 673.4,258.4 C676.2,261.2 680.1,264.1 683.4,266.8 C686.7,269.5 691.5,273.1 693.1,274.4 M693.1,274.4 C694.2,274.9 697.2,276.6 700.0,277.5 C702.8,278.4 706.7,279.4 710.0,280.0 C713.3,280.6 716.1,281.2 720.0,281.2 C723.9,281.3 729.6,280.8 733.5,280.1 C737.4,279.4 740.2,278.2 743.5,276.8 C746.8,275.4 749.9,273.6 753.5,271.8 C757.1,270.0 761.9,267.8 765.0,266.0 C768.1,264.2 770.2,262.4 772.0,261.0 C773.8,259.6 774.9,258.3 775.5,257.8 M775.5,257.8 C775.9,256.9 776.9,254.7 777.9,252.6 C778.9,250.5 780.3,247.7 781.6,245.2 C782.9,242.7 784.4,240.5 785.8,237.7 C787.2,234.9 788.8,231.2 790.0,228.2 C791.2,225.2 792.3,222.2 793.2,219.7 C794.1,217.2 795.0,214.1 795.4,213.0 M834.0,255.2 C834.5,254.6 835.7,253.5 837.2,251.7 C838.7,249.9 841.4,247.3 843.2,244.5 C845.0,241.7 846.6,238.2 848.0,235.0 C849.4,231.8 850.6,228.2 851.6,225.4 C852.6,222.6 853.3,220.3 854.0,218.2 C854.7,216.0 855.5,213.4 855.8,212.5 M884.0,249.0 C885.0,247.7 887.9,243.8 889.9,240.9 C891.9,238.0 894.1,234.6 895.9,231.4 C897.7,228.2 899.5,225.0 900.7,221.8 C901.9,218.6 902.7,213.9 903.1,212.3 M918.6,248.1 C919.8,246.9 923.4,243.2 925.8,241.0 C928.2,238.8 930.7,237.1 933.0,235.0 C935.3,232.9 938.4,229.5 939.5,228.4 M653.4,226.7 C656.7,226.1 665.9,224.7 673.4,223.4 C680.9,222.2 690.6,220.3 698.4,219.2 C706.2,218.0 712.9,217.1 720.0,216.5 C727.1,215.9 734.1,215.3 741.2,215.4 C748.3,215.5 756.3,216.4 762.5,217.0 C768.7,217.6 773.4,218.3 778.4,219.1 C783.4,219.9 789.9,221.4 792.2,221.8 M660.0,238.4 C662.2,237.3 668.4,233.7 673.4,231.7 C678.4,229.7 682.2,228.1 690.0,226.5 C697.8,224.9 711.5,223.3 720.0,222.3 C728.5,221.3 735.0,220.7 741.2,220.7 C747.4,220.7 751.9,221.5 757.2,222.3 C762.5,223.1 768.0,224.0 773.1,225.5 C778.2,227.0 785.5,230.5 788.0,231.5 M668.4,251.0 C670.6,249.1 676.7,242.6 681.7,239.5 C686.7,236.4 692.0,234.1 698.4,232.2 C704.8,230.2 713.8,228.7 720.0,227.8 C726.2,226.9 730.6,226.6 735.9,226.6 C741.2,226.6 746.5,226.6 751.8,227.6 C757.1,228.6 762.7,230.2 767.8,232.4 C772.9,234.6 780.1,239.5 782.6,240.9 M794.5,216.0 C797.1,216.3 805.6,217.7 810.0,218.1 C814.4,218.5 817.4,218.4 820.7,218.6 C824.0,218.8 824.4,218.7 830.0,219.0 C835.6,219.3 850.2,220.3 854.3,220.6 M792.5,221.8 C795.4,222.4 803.8,224.1 810.0,225.2 C816.2,226.3 823.5,227.0 830.0,228.4 C836.5,229.8 845.8,232.7 849.0,233.6 M790.0,228.7 C793.3,229.8 803.3,233.0 810.0,235.6 C816.7,238.2 825.3,242.2 830.0,244.5 C834.7,246.8 836.7,248.7 838.0,249.5 M855.6,215.2 C859.7,215.4 872.3,215.8 880.0,216.2 C887.7,216.6 898.2,217.5 901.9,217.8 M854.0,219.6 C857.5,220.2 867.8,221.8 875.0,223.5 C882.2,225.2 893.3,228.5 897.0,229.5 M851.2,227.2 C854.3,228.4 864.0,231.9 870.0,234.5 C876.0,237.1 884.6,241.2 887.5,242.5 M903.0,215.2 C905.8,215.5 913.9,216.3 920.0,217.0 C926.1,217.7 936.2,219.0 939.5,219.4 M900.7,220.6 C903.9,221.2 913.5,223.2 920.0,224.5 C926.5,225.8 936.2,227.8 939.5,228.4 M895.9,229.3 C898.6,230.2 906.6,232.8 912.0,234.5 C917.4,236.2 925.5,238.9 928.2,239.8" fill="none" stroke="#000" stroke-width="1.8" stroke-linejoin="round" stroke-linecap="round"/>
<path d="M22,444.9 H938 M937.9,257 V445" stroke="#B4B4B4" stroke-width="1" fill="none"/>
<rect x="21.1" y="96.9" width="918.2" height="349.8" fill="none" stroke="#000" stroke-width="1.6"/>
<text x="475" y="68" font-size="16.7" fill="#000" text-anchor="middle">Cartoon showing types of salt structure associated with a passive margin</text>
<text x="475" y="87.7" font-size="16.7" fill="#000" text-anchor="middle">building out over a salt layer e.g. Gabon, Angola</text>
<text x="148.3" y="219" font-size="16.7" fill="#7D0A1E" text-anchor="middle">Active Salt</text>
<text x="147.8" y="238.2" font-size="16.7" fill="#7D0A1E" text-anchor="middle">Structures</text>
<text x="479" y="177" font-size="16.7" fill="#7D0A1E" text-anchor="middle">Passive Salt</text>
<text x="478.8" y="196.8" font-size="16.7" fill="#7D0A1E" text-anchor="middle">Structures</text>
<text x="812.9" y="168.7" font-size="16.7" fill="#7D0A1E" text-anchor="middle">Reactive Salt</text>
<text x="812.3" y="188.1" font-size="16.7" fill="#7D0A1E" text-anchor="middle">Structures</text>
<text x="181.5" y="360" font-size="17.2" fill="#0B5316" text-anchor="middle">Shortening</text>
<text x="482.4" y="343.6" font-size="17.2" fill="#0B5316" text-anchor="middle">Translation</text>
<text x="807.7" y="327.4" font-size="17.2" fill="#0B5316" text-anchor="middle">Extension</text>
<text x="477.2" y="371.9" font-size="11.15" fill="#000" text-anchor="middle">Passive &#8216;downbuilding&#8217; diapirs</text>
<text x="811" y="356.5" font-size="11.15" fill="#000" text-anchor="middle">Salt moves into relatively low pressure parts of</text>
<text x="811" y="369.5" font-size="11.15" fill="#000" text-anchor="middle">the structure, extensional fault footwalls</text>
<text x="189.2" y="387.9" font-size="11.15" fill="#000" text-anchor="middle">Salt rises in core of toe-thrust anticlines</text>
<text x="189" y="407.9" font-size="11.15" fill="#000" text-anchor="middle">Reduced overburden and high pressures in the</text>
<text x="189.7" y="420.6" font-size="11.15" fill="#000" text-anchor="middle">salt body produces piercement with flow of salt at</text>
<text x="189.5" y="435" font-size="11.15" fill="#000" text-anchor="middle">the seabed or within the youngest sediment</text>
</svg>
</body></html>
